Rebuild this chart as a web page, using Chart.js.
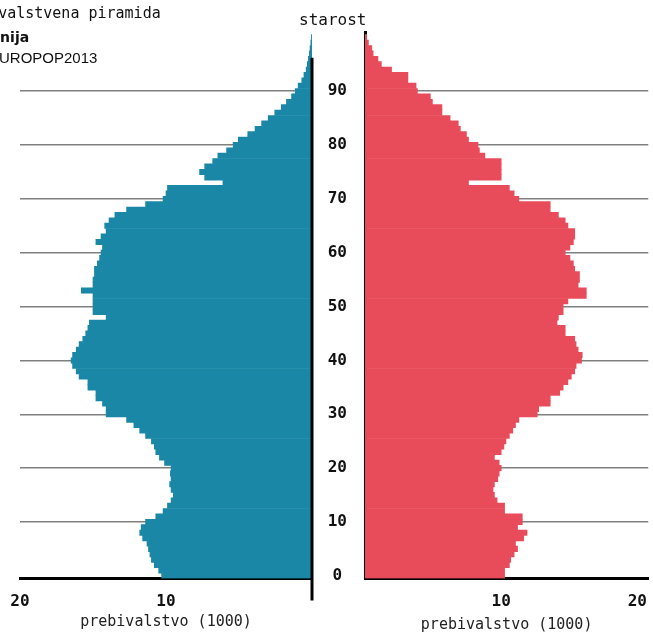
<!DOCTYPE html>
<html>
<head>
<meta charset="utf-8">
<title>Prebivalstvena piramida</title>
<script src="https://cdn.jsdelivr.net/npm/chart.js@4/dist/chart.umd.min.js"></script>
<style>
    html, body { margin: 0; padding: 0; background: #fff; }
    #wrap { position: relative; width: 653px; height: 637px; overflow: hidden; }
    #wrap canvas { position: absolute; left: 0; top: 0; }
    .txt { position: absolute; white-space: nowrap; color: #111; line-height: 1; }
    #t1 { left: -47px; top: 4px; font: 15px "DejaVu Sans Mono"; }
    #t2 { left: -43px; top: 29px; font: bold 14px "DejaVu Sans"; }
    #t3 { left: -11px; top: 49px; font: 15px "Liberation Sans"; }
    #ylab { left: 299px; top: 10px; font: 16px "DejaVu Sans Mono"; }
</style>
</head>
<body>
<div id="wrap">
    <canvas id="leftChart" width="653" height="637"></canvas>
    <canvas id="rightChart" width="653" height="637"></canvas>
    <div class="txt" id="t1">Prebivalstvena piramida</div>
    <div class="txt" id="t2">Slovenija</div>
    <div class="txt" id="t3">EUROPOP2013</div>
    <div class="txt" id="ylab">starost</div>
</div>
<script>
'use strict';

// Ages 0..100
const ages = Array.from({ length: 101 }, (_, i) => i);

// Population in thousands
const male = [
    10.3, 10.5, 10.8, 11.0, 11.1, 11.2, 11.3, 11.6, 11.8, 11.7,
    11.4, 10.7, 10.2, 9.9, 9.65, 9.5, 9.65, 9.75, 9.65, 9.7,
    9.65, 10.1, 10.45, 10.7, 10.8, 11.0, 11.4, 11.8, 12.2, 12.7,
    14.1, 14.1, 14.35, 14.8, 14.8, 15.35, 15.35, 15.95, 16.15, 16.4,
    16.5, 16.4, 16.15, 15.95, 15.7, 15.5, 15.35, 15.25, 14.1, 15.0,
    15.0, 15.0, 15.0, 15.8, 15.0, 15.0, 14.9, 14.9, 14.7, 14.55,
    14.45, 14.35, 14.8, 14.45, 14.1, 14.2, 13.9, 13.5, 12.7, 11.4,
    10.2, 10.0, 9.9, 6.1, 7.35, 7.7, 7.35, 6.8, 6.45, 5.85,
    5.4, 5.05, 4.4, 3.9, 3.45, 3.0, 2.55, 2.1, 1.75, 1.4,
    1.15, 0.95, 0.7, 0.55, 0.4, 0.32, 0.25, 0.18, 0.13, 0.08,
    0.04
];

const female = [
    10.25, 10.25, 10.6, 10.7, 10.95, 11.2, 11.05, 11.65, 11.9, 11.2,
    11.55, 11.55, 10.25, 10.25, 9.7, 9.5, 9.4, 9.5, 9.75, 9.85,
    10.0, 9.85, 9.5, 10.0, 10.2, 10.35, 10.6, 10.85, 11.05, 11.3,
    12.65, 12.75, 13.6, 13.6, 14.3, 14.55, 14.9, 15.15, 15.4, 15.5,
    15.9, 15.95, 15.65, 15.5, 15.4, 14.7, 14.7, 14.1, 14.2, 14.55,
    14.55, 14.9, 16.25, 16.25, 15.65, 15.75, 15.75, 15.4, 15.3, 15.05,
    14.7, 15.05, 15.3, 15.4, 15.4, 14.9, 14.7, 14.2, 13.6, 13.6,
    11.3, 10.95, 10.6, 7.6, 10.0, 10.0, 10.0, 10.0, 8.8, 8.4,
    8.3, 7.6, 7.45, 7.0, 6.85, 6.25, 5.65, 5.65, 4.95, 4.8,
    3.85, 3.75, 3.15, 3.15, 1.95, 1.2, 0.95, 0.6, 0.5, 0.25,
    0.12
];

// Tick labels
const ageTicks = [0, 10, 20, 30, 40, 50, 60, 70, 80, 90];
const popTicks = [10, 20];

const maleColor = '#1a87a6';
const femaleColor = '#e84b5a';
const gridColor = 'rgba(0, 0, 0, 0.5)';
const axisTitle = 'prebivalstvo (1000)';

function toPoints(values) {
    return values.map((v, i) => ({ x: v, y: ages[i] }));
}

function barDataset(values, color) {
    return {
        data: toPoints(values),
        backgroundColor: color,
        borderWidth: 0,
        barPercentage: 1,
        categoryPercentage: 1
    };
}

function xScale(reverse, max, titlePad) {
    return {
        type: 'linear',
        reverse: reverse,
        min: 0,
        max: max,
        afterBuildTicks: s => { s.ticks = popTicks.map(v => ({ value: v })); },
        afterFit: s => { s.height = 58.5; },
        grid: { display: false },
        border: { display: true, color: '#000', width: 3 },
        ticks: {
            padding: 6,
            color: '#111',
            font: { family: 'DejaVu Sans Mono', size: 16, weight: 'bold' }
        },
        title: {
            display: true,
            text: axisTitle,
            color: '#222',
            padding: { top: 0, bottom: titlePad },
            font: { family: 'DejaVu Sans Mono', size: 15 }
        }
    };
}

function yScale(position, showLabels) {
    return {
        type: 'linear',
        position: position,
        min: -0.5,
        max: 101,
        offset: false,
        z: 1,
        afterBuildTicks: s => { s.ticks = ageTicks.map(v => ({ value: v })); },
        afterFit: s => { s.width = showLabels ? 50 : 0; },
        grid: {
            // no grid line at age 0, the x axis sits there
            color: c => (c.tick && c.tick.value === 0 ? 'rgba(0,0,0,0)' : gridColor),
            lineWidth: 1.5,
            drawTicks: false,
            offset: false
        },
        border: { display: showLabels, color: '#000', width: 3 },
        ticks: {
            display: showLabels,
            crossAlign: 'center',
            padding: 18,
            color: '#111',
            font: { family: 'DejaVu Sans Mono', size: 16, weight: 'bold' }
        }
    };
}

// Vertical zero line of the male side, it runs a bit below the x axis
const maleAxisLine = {
    id: 'maleAxisLine',
    afterDraw(chart) {
        const { ctx, chartArea, scales } = chart;
        const x = scales.x.getPixelForValue(0);
        ctx.save();
        ctx.strokeStyle = '#000';
        ctx.lineWidth = 3;
        ctx.beginPath();
        ctx.moveTo(x, scales.y.getPixelForValue(96.2));
        ctx.lineTo(x, chartArea.bottom + 22);
        ctx.stroke();
        ctx.restore();
    }
};

const common = {
    responsive: false,
    animation: false,
    indexAxis: 'y',
    plugins: { legend: { display: false }, tooltip: { enabled: false } }
};

new Chart(document.getElementById('leftChart'), {
    type: 'bar',
    data: { datasets: [barDataset(male, maleColor)] },
    options: Object.assign({}, common, {
        layout: { padding: { left: 20, right: 341, top: 32, bottom: 0 } },
        scales: { x: xScale(true, 20, 6), y: yScale('right', false) }
    }),
    plugins: [maleAxisLine]
});

new Chart(document.getElementById('rightChart'), {
    type: 'bar',
    data: { datasets: [barDataset(female, femaleColor)] },
    options: Object.assign({}, common, {
        layout: { padding: { left: 315, right: 0, top: 32, bottom: 0 } },
        scales: { x: xScale(false, 20.8, 3), y: yScale('left', true) }
    })
});
</script>
</body>
</html>
